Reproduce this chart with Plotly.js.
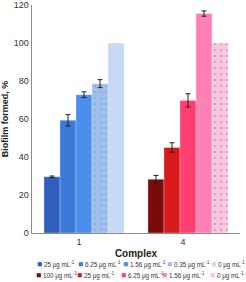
<!DOCTYPE html>
<html>
<head>
<meta charset="utf-8">
<script src="https://cdn.plot.ly/plotly-3.0.1.min.js"></script>
<style>html,body{margin:0;padding:0;background:#fff;}#chart{width:246px;height:282px;}</style>
</head>
<body>
<div id="chart"></div>
<script>
// ---- data ----
var categories = ['1', '4'];
var blueLabels = ['25', '6.25', '1.56', '0.35', '0'];
var blueValues = [29.6, 59.3, 72.8, 78.6, 100];
var blueErr = [0.4, 3.0, 1.5, 2.1, 0];
var redLabels = ['100', '25', '6.25', '1.56', '0'];
var redValues = [28.3, 45.0, 69.8, 115.5, 100];
var redErr = [2.0, 2.5, 3.5, 1.4, 0];
var blueColors = ['#2F5FBA', '#3C7AD9', '#4B8EEE', '#9EBFEF', '#C7DAF5'];
var redColors = ['#7C0A0A', '#D81A1A', '#FF3E72', '#FF80B4', '#FFC3DF'];
var bluePattern = ['', '', '', '.', ''];
var redPattern = ['', '', '', '', '.'];
var unit = ' μg mL<sup>-1</sup>';

var M = {l: 32, r: 6, t: 5, b: 49};
var W = 246, H = 282;
var pw = W - M.l - M.r, ph = H - M.t - M.b;

function mkTrace(cat, lab, val, err, col, pat, i) {
  var t = {
    type: 'bar',
    x: [cat],
    y: [val],
    name: lab + unit,
    offsetgroup: String(i),
    marker: {color: col, line: {color: 'rgba(255,255,255,0.6)', width: 0.5}},
    showlegend: false
  };
  if (pat) t.marker.pattern = {shape: pat, fgcolor: '#9aa3b8', size: 6, solidity: 0.08, bgcolor: col};
  if (err > 0) t.error_y = {type: 'data', array: [err], visible: true, color: '#222', thickness: 1, width: 2.5};
  return t;
}

var traces = [];
for (var i = 0; i < blueLabels.length; i++) traces.push(mkTrace(categories[0], blueLabels[i], blueValues[i], blueErr[i], blueColors[i], bluePattern[i], i));
for (var j = 0; j < redLabels.length; j++) traces.push(mkTrace(categories[1], redLabels[j], redValues[j], redErr[j], redColors[j], redPattern[j], j));

// legend built from series names and colours
var rowPx = [264, 275];
var colPx = [[37, 78, 123, 167, 211], [36, 77, 121, 162, 210]];
var annotations = [];
function addLegend(labels, colors, row) {
  for (var k = 0; k < labels.length; k++) {
    annotations.push({
      xref: 'paper', yref: 'paper',
      x: (colPx[row][k] - M.l - 1) / pw,
      y: (M.t + ph - rowPx[row]) / ph,
      xanchor: 'left', yanchor: 'middle',
      showarrow: false,
      borderpad: 0,
      text: '<span style="font-size:8.5px;fill:' + colors[k] + ';color:' + colors[k] + '">■</span> ' + labels[k] + unit,
      font: {family: 'Liberation Sans, Arial, sans-serif', size: 6.3, color: '#333'}
    });
  }
}
addLegend(blueLabels, blueColors, 0);
addLegend(redLabels, redColors, 1);

var layout = {
  width: W, height: H,
  margin: M,
  paper_bgcolor: '#fff', plot_bgcolor: '#fff',
  barmode: 'group',
  bargap: 0.23,
  bargroupgap: 0,
  showlegend: false,
  font: {family: 'Liberation Sans, Arial, sans-serif', color: '#333'},
  xaxis: {
    type: 'category',
    showline: true, linecolor: '#8c8c8c', linewidth: 1,
    ticks: '', showgrid: false, zeroline: false,
    tickfont: {size: 9, color: '#333'},
    ticklabelshift: -5,
    title: {text: '<b>Complex</b>', font: {size: 10, color: '#222'}, standoff: 4}
  },
  yaxis: {
    range: [0, 120], dtick: 20,
    showline: true, linecolor: '#8c8c8c', linewidth: 1.5,
    ticks: '', showgrid: false, zeroline: false,
    tickfont: {size: 9, color: '#333'},
    title: {text: '<b>Biofilm formed, %</b>', font: {size: 9, color: '#222'}, standoff: 6}
  },
  annotations: annotations
};

Plotly.newPlot('chart', traces, layout, {staticPlot: true, displayModeBar: false});
</script>
</body>
</html>
